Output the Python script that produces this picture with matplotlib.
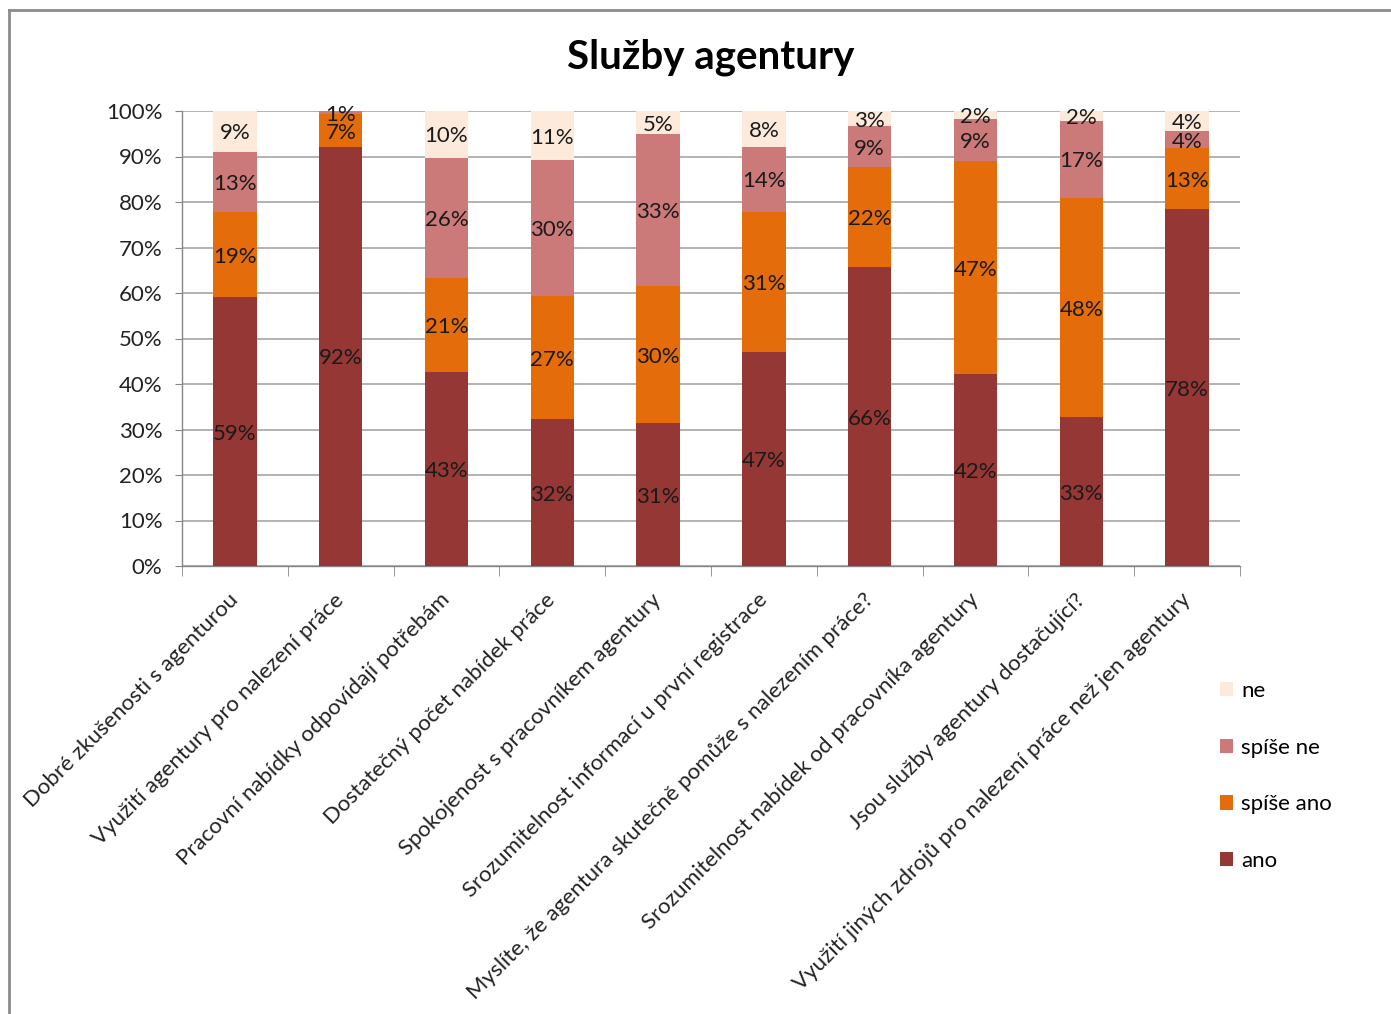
import matplotlib
matplotlib.use("Agg")
import matplotlib.pyplot as plt
import matplotlib.transforms as mtransforms
import numpy as np

categories = [
    "Dobré zkušenosti s agenturou",
    "Využití agentury pro nalezení práce",
    "Pracovní nabídky odpovídají potřebám",
    "Dostatečný počet nabídek práce",
    "Spokojenost s pracovníkem agentury",
    "Srozumitelnost informací u první registrace",
    "Myslíte, že agentura skutečně pomůže s nalezením práce?",
    "Srozumitelnost nabídek od pracovníka agentury",
    "Jsou služby agentury dostačující?",
    "Využití jiných zdrojů pro nalezení práce než jen agentury",
]
series_names = ["ano", "spíše ano", "spíše ne", "ne"]
ano = [59.1, 92.1, 42.6, 32.3, 31.4, 47.0, 65.7, 42.2, 32.7, 78.4]
spise_ano = [18.6, 7.2, 20.7, 27.0, 30.1, 30.8, 22.0, 46.8, 48.2, 13.4]
spise_ne = [13.3, 0.7, 26.4, 29.9, 33.4, 14.3, 8.9, 9.3, 16.9, 3.8]
ne = [9.0, 0.0, 10.3, 10.8, 5.1, 7.9, 3.4, 1.7, 2.2, 4.4]
colors = ["#953735", "#E46C0A", "#CC7A79", "#FDEADA"]
yticks = [0, 10, 20, 30, 40, 50, 60, 70, 80, 90, 100]

FONT = "Lato"
plt.rcParams["font.family"] = [FONT, "DejaVu Sans"]

W, H = 1391, 1014
fig = plt.figure(figsize=(W / 100, H / 100), dpi=100)
ax = fig.add_axes([182 / W, 1 - 566 / H, (1240 - 182) / W, (566 - 111) / H])

x = np.arange(len(categories))
data = [ano, spise_ano, spise_ne, ne]
bottom = np.zeros(len(categories))
handles = []
lbl_shift = ax.transData + mtransforms.ScaledTranslation(0, -2 / 100, fig.dpi_scale_trans)
for name, vals, col in zip(series_names, data, colors):
    vals = np.array(vals)
    bars = ax.bar(x, vals, 0.41, bottom=bottom, color=col, label=name, zorder=3)
    handles.append(bars)
    for xi, b, v in zip(x, bottom, vals):
        if v > 0:
            ax.text(xi, b + v / 2, f"{v:.0f}%", ha="center", va="center",
                    fontsize=16, color="#1a1a1a", zorder=4, transform=lbl_shift)
    bottom += vals

ax.set_xlim(-0.5, len(categories) - 0.5)
ax.set_ylim(0, 100)
ax.set_yticks(yticks)
ax.set_yticklabels([f"{t}%" for t in yticks], fontsize=16, color="#222222")
ax.yaxis.grid(True, color="#A6A6A6", linewidth=1.2, zorder=0)
ax.set_axisbelow(True)

for s in ["top", "right"]:
    ax.spines[s].set_visible(False)
for s in ["left", "bottom"]:
    ax.spines[s].set_color("#868686")
    ax.spines[s].set_linewidth(1.0)

ax.tick_params(axis="y", length=5, color="#868686", pad=9)
ax.set_xticks(x)
ax.set_xticklabels(categories, rotation=45, ha="right", va="top",
                   rotation_mode="anchor", fontsize=16, color="#222222")
ax.tick_params(axis="x", length=0, pad=17)
offset = mtransforms.ScaledTranslation(-7 / 100, 0, fig.dpi_scale_trans)
for lbl in ax.get_xticklabels():
    lbl.set_transform(lbl.get_transform() + offset)
ax.set_xticks(np.arange(-0.5, len(categories), 1.0), minor=True)
ax.tick_params(axis="x", which="minor", length=7, color="#868686", direction="out")

leg = fig.legend(handles[::-1], series_names[::-1], loc="upper left",
                 bbox_to_anchor=(1200 / W, 1 - 661 / H), frameon=False,
                 fontsize=16, handlelength=0.6, handleheight=0.6,
                 labelspacing=1.65, handletextpad=0.35)

fig.text(711 / W, 1 - 57 / H, "Služby agentury", ha="center", va="center",
         fontsize=29, fontweight="bold", color="#000000")

# outer chart border (left and top visible)
fig.add_artist(plt.Line2D([9 / W, 9 / W], [0, 1 - 10 / H], transform=fig.transFigure,
                          color="#8C8C8C", linewidth=2))
fig.add_artist(plt.Line2D([9 / W, 1], [1 - 10 / H, 1 - 10 / H], transform=fig.transFigure,
                          color="#8C8C8C", linewidth=2))

fig.savefig("out.png", dpi=100, facecolor="white")
